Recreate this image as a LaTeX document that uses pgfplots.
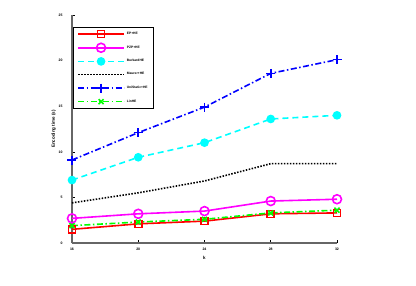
\documentclass[border=0pt]{standalone}
\usepackage{fontspec}
\setmainfont{Liberation Sans}
\usepackage{pgfplots}
\pgfplotsset{compat=1.18}
\definecolor{mred}{RGB}{255,0,0}
\definecolor{mmag}{RGB}{255,0,255}
\definecolor{mcyan}{RGB}{0,255,255}
\definecolor{mblue}{RGB}{0,0,255}
\definecolor{mgreen}{RGB}{0,255,0}
\begin{document}
\begin{tikzpicture}
\useasboundingbox (0,0) rectangle (416pt,285pt);
\begin{axis}[
  at={(72pt,42pt)}, anchor=origin,
  scale only axis, width=265pt, height=228pt,
  xmin=16, xmax=32, ymin=0, ymax=25,
  xtick={16,20,24,28,32}, ytick={0,5,10,15,20,25},
  axis x line*=bottom, axis y line*=left,
  axis line style={gray!80!black, line width=1.2pt},
  tick style={black, line width=0.6pt},
  major tick length=3pt,
  tick align=inside,
  /pgf/number format/assume math mode=true,
  ticklabel style={font=\fontsize{3.5}{4}\selectfont\bfseries},
  xticklabel style={yshift=-2pt},
  yticklabel style={xshift=-6pt},
  xlabel={k}, ylabel={Encoding time (s)},
  xlabel style={font=\fontsize{4.5}{5}\selectfont\bfseries, yshift=2pt},
  ylabel style={font=\fontsize{4.5}{5}\selectfont\bfseries, yshift=-4pt},
  legend style={at={(rel axis cs:0.004,0.947)}, anchor=north west, draw=black,
    font=\fontsize{3.3}{3.8}\selectfont\bfseries, row sep=5.2pt, inner xsep=4pt, inner ysep=3pt},
  legend cell align=left,
  legend image code/.code={\draw[#1] (0pt,0pt) -- (46pt,0pt); \draw[#1, solid] plot coordinates {(23pt,0pt)};},
  every axis plot/.append style={line width=1.6pt},
]
\addplot[mred, solid, mark=square, mark size=3.5pt, mark options={solid}] coordinates {(16,1.5) (20,2.1) (24,2.4) (28,3.2) (32,3.3)};
\addlegendentry{EP+HE}
\addplot[mmag, solid, mark=o, mark size=4.5pt, mark options={solid}] coordinates {(16,2.7) (20,3.2) (24,3.5) (28,4.6) (32,4.8)};
\addlegendentry{PZP+HE}
\addplot[mcyan, dash pattern=on 6pt off 4pt, mark=*, mark size=3.5pt, mark options={solid}] coordinates {(16,6.9) (20,9.4) (24,11.0) (28,13.6) (32,14.0)};
\addlegendentry{BurkardHE}
\addplot[black, dash pattern=on 1.5pt off 1.5pt, mark=none] coordinates {(16,4.4) (20,5.5) (24,6.8) (28,8.7) (32,8.7)};
\addlegendentry{Maurer+HE}
\addplot[mblue, dash pattern=on 6pt off 2.5pt on 1.5pt off 2.5pt, mark=+, mark size=4.5pt, mark options={solid}] coordinates {(16,9.1) (20,12.1) (24,14.9) (28,18.6) (32,20.1)};
\addlegendentry{UniStatic+HE}
\addplot[mgreen, dash pattern=on 6pt off 2.5pt on 1.5pt off 2.5pt, mark=x, mark size=3.5pt, mark options={solid}] coordinates {(16,1.9) (20,2.3) (24,2.6) (28,3.3) (32,3.6)};
\addlegendentry{LinHE}
\end{axis}
\end{tikzpicture}
\end{document}
